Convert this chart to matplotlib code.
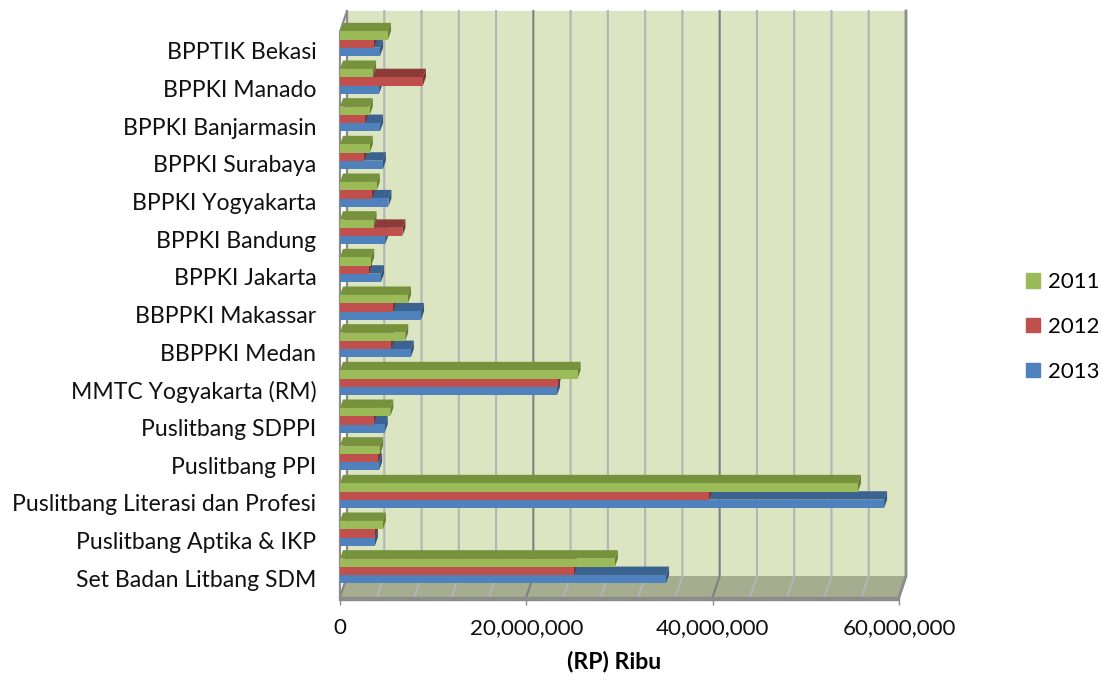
import matplotlib
matplotlib.use("Agg")
import matplotlib.pyplot as plt
from matplotlib.patches import Patch

plt.rcParams['font.family'] = ['Lato', 'DejaVu Sans']

categories = ["BPPTIK Bekasi", "BPPKI Manado", "BPPKI Banjarmasin", "BPPKI Surabaya",
              "BPPKI Yogyakarta", "BPPKI Bandung", "BPPKI Jakarta", "BBPPKI Makassar",
              "BBPPKI Medan", "MMTC Yogyakarta (RM)", "Puslitbang SDPPI", "Puslitbang PPI",
              "Puslitbang Literasi dan Profesi", "Puslitbang Aptika & IKP", "Set Badan Litbang SDM"]

# values in Rp thousand
v2011 = [5.15e6, 3.55e6, 3.2e6, 3.2e6, 3.95e6, 3.6e6, 3.35e6, 7.3e6, 7.0e6, 25.5e6, 5.4e6, 4.3e6, 55.6e6, 4.6e6, 29.5e6]
v2012 = [3.65e6, 8.9e6, 2.7e6, 2.6e6, 3.45e6, 6.7e6, 3.1e6, 5.7e6, 5.5e6, 23.4e6, 3.6e6, 4.1e6, 39.6e6, 3.75e6, 25.1e6]
v2013 = [4.3e6, 4.2e6, 4.3e6, 4.6e6, 5.2e6, 4.85e6, 4.4e6, 8.7e6, 7.6e6, 23.3e6, 4.8e6, 4.2e6, 58.4e6, 3.75e6, 35.0e6]

major_ticks = [0, 20000000, 40000000, 60000000]
grid_ticks = list(range(0, 64000000, 4000000))

W, H = 1102, 681
fig = plt.figure(figsize=(W / 100, H / 100), dpi=100)

# front plane of the fake 3D box, in pixels
left, right, top, bottom = 340, 899, 32, 597
ax = fig.add_axes([left / W, 1 - bottom / H, (right - left) / W, (bottom - top) / H])
ax.set_xlim(0, 60000000)
ax.set_ylim(14.5, -0.5)
for s in ax.spines.values():
    s.set_visible(False)

px_x = 60000000 / (right - left)
px_y = 15 / (bottom - top)
depth_x = 7 * px_x
depth_y = 21 * px_y
y0, y1 = 14.5, -0.5

# back wall and floor
ax.fill([depth_x, 60000000 + depth_x, 60000000 + depth_x, depth_x],
        [y0 - depth_y, y0 - depth_y, y1 - depth_y, y1 - depth_y],
        color="#dbe5c1", lw=0, clip_on=False, zorder=1)
ax.fill([0, 60000000, 60000000 + depth_x, depth_x],
        [y0, y0, y0 - depth_y, y0 - depth_y],
        color="#a6ad8f", lw=0, clip_on=False, zorder=1)

for t in grid_ticks:
    c = "#7f7f7f" if t in major_ticks else "#b4b4b4"
    ax.plot([t, t + depth_x, t + depth_x], [y0, y0 - depth_y, y1 - depth_y],
            color=c, lw=1.5, clip_on=False, zorder=2)

# box edges
edge = "#8c8c8c"
ax.plot([0, 60000000], [y0 + 2 * px_y] * 2, color=edge, lw=3.2, clip_on=False, solid_capstyle="butt", zorder=3)
ax.plot([0, 0, depth_x, depth_x], [y0 + 3 * px_y, y1, y1 - depth_y, y0 - depth_y],
        color=edge, lw=1.6, clip_on=False, zorder=3)
ax.plot([60000000, 60000000 + depth_x, 60000000 + depth_x], [y0, y0 - depth_y, y1 - depth_y],
        color=edge, lw=2, clip_on=False, zorder=3)


def bar3d(values, offset, front, top_c, side, z):
    # offset = px from category centre to the top of the front face
    h = 8.4 * px_y
    dx = 3 * px_x
    for i, v in enumerate(values):
        y = i + offset * px_y
        ax.fill([0, dx, v + dx, v], [y, y - h, y - h, y], color=top_c, lw=0, zorder=z, clip_on=False)
        ax.fill([v, v + dx, v + dx, v], [y, y - h, y, y + h], color=side, lw=0, zorder=z, clip_on=False)
        ax.fill([0, v, v, 0], [y, y, y + h, y + h], color=front, lw=0, zorder=z, clip_on=False)


bar3d(v2013, -3.2, "#4f81bd", "#3c6290", "#33557e", 4)
bar3d(v2012, -11.4, "#c0504d", "#8e3a38", "#7c3230", 5)
bar3d(v2011, -19.6, "#9bbb59", "#76923c", "#667f33", 6)

ax.set_yticks(range(len(categories)))
ax.set_yticklabels(categories, fontsize=16.6, color="#111111")
ax.tick_params(axis="y", length=0, pad=17)
ax.set_xticks(major_ticks)
ax.set_xticklabels(["0", "20,000,000", "40,000,000", "60,000,000"], fontsize=16.1, color="#111111")
ax.tick_params(axis="x", length=6, width=1, color=edge, pad=9)
ax.set_xlabel("(RP) Ribu", fontsize=16.6, fontweight="bold", labelpad=9, x=0.49)

handles = [Patch(color="#9bbb59", label="2011"), Patch(color="#c0504d", label="2012"), Patch(color="#4f81bd", label="2013")]
fig.legend(handles=handles, loc="center left", bbox_to_anchor=(1006 / W, 1 - 327 / H), frameon=False,
           fontsize=16, handlelength=0.63, handleheight=0.63, handletextpad=0.35, labelspacing=1.12, borderpad=0.4)

fig.savefig("out.png", dpi=100)
